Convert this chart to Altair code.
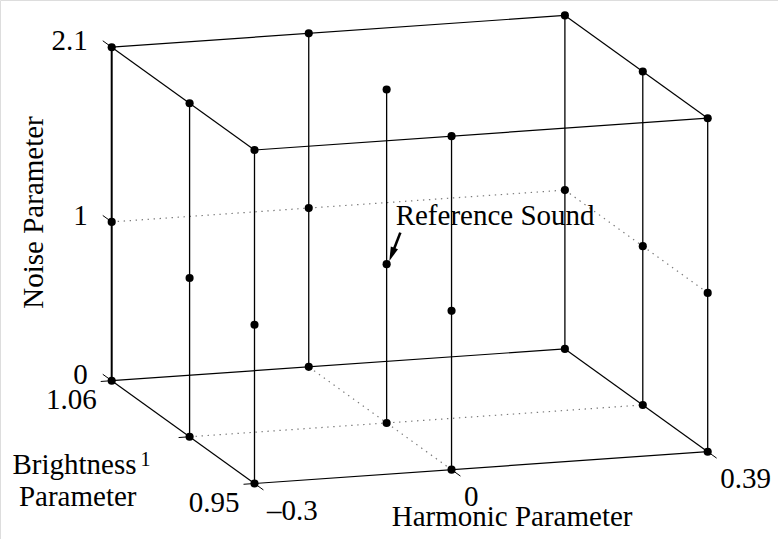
import math
import altair as alt
import pandas as pd

# ---------------- data ----------------
harmonic_levels = [-0.3, 0.0, 0.39]
brightness_levels = [0.95, 1.0, 1.06]
noise_levels = [0.0, 1.0, 2.1]
harmonic_labels = ["\u20130.3", "0", "0.39"]
brightness_labels = ["0.95", "1", "1.06"]
noise_labels = ["0", "1", "2.1"]
reference_sound = (0.0, 1.0, 1.0)
annotation_text = "Reference Sound"
title_harmonic = "Harmonic Parameter"
title_brightness = "Brightness\nParameter"
title_noise = "Noise Parameter"

# ---------------- view (orthographic camera) ----------------
W, H = 778, 539
ORIGIN = (254.5, 483.5)      # screen point of the (Hmin, Bmin, Nmin) corner
H_SPAN = (453.2, -31.8)      # screen vector of the full harmonic range
B_SPAN = (-142.8, -102.8)    # screen vector of the full brightness range
N_SPAN = (0.0, -333.5)       # screen vector of the full noise range
TICK_LEN = 11
FONT = "Liberation Serif"
FS = 29

hmin, hmax = min(harmonic_levels), max(harmonic_levels)
bmin, bmax = min(brightness_levels), max(brightness_levels)
nmin, nmax = min(noise_levels), max(noise_levels)
hmid, bmid, nmid = harmonic_levels[1], brightness_levels[1], noise_levels[1]


def proj(h, b, n):
    fh = (h - hmin) / (hmax - hmin)
    fb = (b - bmin) / (bmax - bmin)
    fn = (n - nmin) / (nmax - nmin)
    x = ORIGIN[0] + fh * H_SPAN[0] + fb * B_SPAN[0] + fn * N_SPAN[0]
    y = ORIGIN[1] + fh * H_SPAN[1] + fb * B_SPAN[1] + fn * N_SPAN[1]
    return x, y


def unit(v, sign=1.0):
    L = math.hypot(v[0], v[1])
    return (sign * v[0] / L, sign * v[1] / L)


# ---------------- segments ----------------
segs = []


def seg(p, q, kind):
    x, y = proj(*p)
    x2, y2 = proj(*q)
    segs.append(dict(x=x, y=y, x2=x2, y2=y2, kind=kind))


for h in harmonic_levels:
    for b in brightness_levels:
        seg((h, b, nmin), (h, b, nmax), "axis" if (h == hmin and b == bmax) else "stem")
for n in (nmin, nmax):
    seg((hmin, bmax, n), (hmax, bmax, n), "edge")
    seg((hmax, bmax, n), (hmax, bmin, n), "edge")
    seg((hmax, bmin, n), (hmin, bmin, n), "edge")
    seg((hmin, bmin, n), (hmin, bmax, n), "edge")
seg((hmin, bmax, nmid), (hmax, bmax, nmid), "grid")
seg((hmax, bmax, nmid), (hmax, bmin, nmid), "grid")
seg((hmin, bmid, nmin), (hmax, bmid, nmin), "grid")
seg((hmid, bmin, nmin), (hmid, bmax, nmin), "grid")

# ticks
ticks = []
tick_labels = []
uB = unit(B_SPAN, 1.0)
uHm = unit(H_SPAN, -1.0)
uBm = unit(B_SPAN, -1.0)
NOISE_OFF = (-24, 3)
BRIGHT_OFF = [(-15, 28), (-39, 29.5), (-15, 28)]
BRIGHT_FS = [FS, 20, FS]
HARM_OFF = (12.5, 36)
for n, lab in zip(noise_levels, noise_labels):
    x, y = proj(hmin, bmax, n)
    ticks.append(dict(x=x, y=y, x2=x + uB[0] * TICK_LEN, y2=y + uB[1] * TICK_LEN))
    tick_labels.append(dict(x=x + NOISE_OFF[0], y=y + NOISE_OFF[1], t=lab, grp="noise", fs=FS))
for b, lab, off, fs in zip(brightness_levels, brightness_labels, BRIGHT_OFF, BRIGHT_FS):
    x, y = proj(hmin, b, nmin)
    ticks.append(dict(x=x, y=y, x2=x + uHm[0] * TICK_LEN, y2=y + uHm[1] * TICK_LEN))
    tick_labels.append(dict(x=x + off[0], y=y + off[1], t=lab, grp="bright", fs=fs))
for h, lab in zip(harmonic_levels, harmonic_labels):
    x, y = proj(h, bmin, nmin)
    ticks.append(dict(x=x, y=y, x2=x + uBm[0] * TICK_LEN, y2=y + uBm[1] * TICK_LEN))
    tick_labels.append(dict(x=x + HARM_OFF[0], y=y + HARM_OFF[1], t=lab, grp="harm", fs=FS))

seg_df = pd.DataFrame(segs)
tick_df = pd.DataFrame(ticks)
lab_df = pd.DataFrame(tick_labels)

# points
pts = []
for h in harmonic_levels:
    for b in brightness_levels:
        for n in noise_levels:
            x, y = proj(h, b, n)
            pts.append(dict(x=x, y=y))
pt_df = pd.DataFrame(pts)

# titles
rx, ry = proj(*reference_sound)
nx, ny = proj(hmin, bmax, (nmin + nmax) / 2)
bx, by = proj(hmin, (bmin + bmax) / 2, nmin)
hx, hy = proj((hmin + hmax) / 2, bmin, nmin)
noise_title_df = pd.DataFrame([dict(x=nx - 68.7, y=ny - 1.5, t=title_noise)])
bright_title_df = pd.DataFrame([dict(x=bx - 46.6, y=by + 41.9, t=title_brightness)])
harm_title_df = pd.DataFrame([dict(x=hx + 31, y=hy + 58.4, t=title_harmonic)])
ref_df = pd.DataFrame([dict(x=rx + 9, y=ry - 39.2, t=annotation_text)])

# arrow
tail = (rx + 13.7, ry - 31.5)
tip = (rx + 2.7, ry - 3.2)
ua = unit((tip[0] - tail[0], tip[1] - tail[1]))
HEAD_LEN = 14
head_c = (tip[0] - ua[0] * HEAD_LEN / 2, tip[1] - ua[1] * HEAD_LEN / 2)
arrow_angle = math.degrees(math.atan2(-ua[0], ua[1])) % 360
shaft_df = pd.DataFrame([dict(x=tail[0], y=tail[1], x2=head_c[0], y2=head_c[1])])
head_df = pd.DataFrame([dict(x=head_c[0], y=head_c[1])])

# ---------------- chart ----------------
xs = alt.Scale(domain=[0, W], zero=False, nice=False)
ys = alt.Scale(domain=[0, H], zero=False, nice=False, reverse=True)
X = alt.X("x:Q", scale=xs, axis=None)
Y = alt.Y("y:Q", scale=ys, axis=None)


def rules(df, **kw):
    return alt.Chart(df).mark_rule(**kw).encode(x=X, y=Y, x2="x2:Q", y2="y2:Q")


layers = [
    rules(seg_df[seg_df.kind == "grid"], color="#7a7a7a", strokeWidth=1.2, strokeDash=[1.4, 4.6]),
    rules(seg_df[seg_df.kind == "edge"], color="black", strokeWidth=1.2),
    rules(seg_df[seg_df.kind == "stem"], color="black", strokeWidth=1.3),
    rules(seg_df[seg_df.kind == "axis"], color="black", strokeWidth=2.0),
    rules(tick_df, color="black", strokeWidth=1.0),
    alt.Chart(pt_df).mark_circle(size=66, color="black", opacity=1).encode(x=X, y=Y),
    alt.Chart(lab_df[lab_df.grp == "noise"]).mark_text(
        font=FONT, fontSize=FS, align="right", baseline="alphabetic", color="black"
    ).encode(x=X, y=Y, text="t:N"),
    alt.Chart(lab_df[lab_df.grp == "bright"]).mark_text(
        font=FONT, align="right", baseline="alphabetic", color="black"
    ).encode(x=X, y=Y, text="t:N", size=alt.Size("fs:Q", scale=None, legend=None)),
    alt.Chart(lab_df[lab_df.grp == "harm"]).mark_text(
        font=FONT, fontSize=FS, align="left", baseline="alphabetic", color="black"
    ).encode(x=X, y=Y, text="t:N"),
    alt.Chart(noise_title_df).mark_text(
        font=FONT, fontSize=FS, align="center", baseline="alphabetic", angle=270, color="black"
    ).encode(x=X, y=Y, text="t:N"),
    alt.Chart(bright_title_df).mark_text(
        font=FONT, fontSize=FS, align="right", baseline="alphabetic", lineBreak="\n",
        lineHeight=32, color="black"
    ).encode(x=X, y=Y, text="t:N"),
    alt.Chart(harm_title_df).mark_text(
        font=FONT, fontSize=FS, align="center", baseline="alphabetic", color="black"
    ).encode(x=X, y=Y, text="t:N"),
    alt.Chart(ref_df).mark_text(
        font=FONT, fontSize=FS, align="left", baseline="alphabetic", color="black"
    ).encode(x=X, y=Y, text="t:N"),
    rules(shaft_df, color="black", strokeWidth=2.6),
    alt.Chart(head_df).mark_point(
        shape="M0,1L-0.55,-1L0.55,-1Z", filled=True, size=HEAD_LEN ** 2, angle=arrow_angle,
        color="black", opacity=1, strokeWidth=0
    ).encode(x=X, y=Y),
]

chart = alt.layer(*layers).properties(
    width=W, height=H, padding=0, autosize=alt.AutoSizeParams(type="none")
).configure_view(stroke=None).configure(background="white")

chart.save("out.html", embed_options={"renderer": "svg", "actions": False})
